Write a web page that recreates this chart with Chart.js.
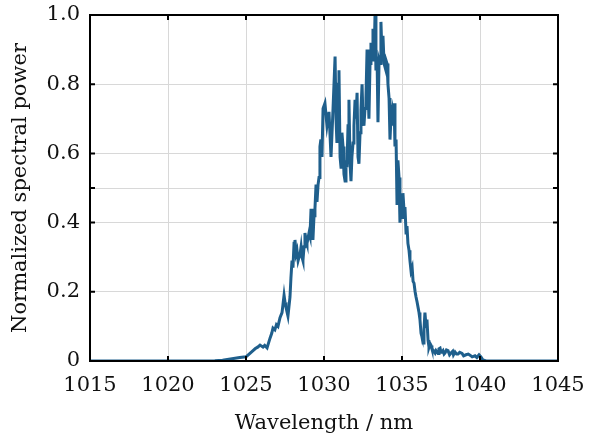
<!DOCTYPE html>
<html>
<head>
<meta charset="utf-8">
<script src="https://cdn.jsdelivr.net/npm/chart.js@4/dist/chart.umd.min.js"></script>
<style>
  html, body { margin: 0; padding: 0; background: #fff; }
  #wrap { width: 593px; height: 436px; }
</style>
</head>
<body>
<div id="wrap"><canvas id="spectrum"></canvas></div>
<script>
// Spectrum (wavelength in nm, normalized power).
const wavelength = [
  1015, 1022, 1023.0, 1023.5, 1024.0, 1024.3, 1024.6, 1025.0, 1025.2, 1025.45,
  1025.6, 1025.75, 1025.9, 1026.09, 1026.2, 1026.35, 1026.54, 1026.65, 1026.73, 1026.85,
  1026.95, 1027.05, 1027.18, 1027.31, 1027.44, 1027.5, 1027.56, 1027.69, 1027.82, 1027.88,
  1027.95, 1028.01, 1028.08, 1028.14, 1028.21, 1028.27, 1028.34, 1028.4, 1028.47, 1028.53,
  1028.59, 1028.65, 1028.72, 1028.78, 1028.85, 1028.91, 1029.04, 1029.1, 1029.17, 1029.23,
  1029.29, 1029.36, 1029.42, 1029.49, 1029.55, 1029.62, 1029.68, 1029.74, 1029.8, 1029.87,
  1029.94, 1030.06, 1030.19, 1030.32, 1030.45, 1030.58, 1030.71, 1030.77, 1030.83, 1030.9,
  1030.96, 1031.03, 1031.09, 1031.15, 1031.22, 1031.28, 1031.35, 1031.41, 1031.47, 1031.54,
  1031.6, 1031.67, 1031.73, 1031.79, 1031.86, 1031.92, 1031.99, 1032.05, 1032.12, 1032.18,
  1032.24, 1032.31, 1032.37, 1032.44, 1032.5, 1032.56, 1032.63, 1032.69, 1032.76, 1032.82,
  1032.88, 1032.95, 1033.01, 1033.08, 1033.14, 1033.21, 1033.27, 1033.33, 1033.4, 1033.46,
  1033.53, 1033.59, 1033.65, 1033.72, 1033.78, 1033.85, 1033.91, 1033.97, 1034.04, 1034.1,
  1034.17, 1034.23, 1034.29, 1034.36, 1034.42, 1034.49, 1034.55, 1034.62, 1034.68, 1034.74,
  1034.81, 1034.87, 1034.94, 1035.0, 1035.06, 1035.13, 1035.19, 1035.26, 1035.32, 1035.38,
  1035.45, 1035.51, 1035.58, 1035.65, 1035.71, 1035.77, 1035.84, 1035.9, 1035.97, 1036.03,
  1036.09, 1036.15, 1036.22, 1036.28, 1036.35, 1036.41, 1036.47, 1036.54, 1036.6, 1036.67,
  1036.73, 1036.8, 1036.86, 1036.92, 1036.99, 1037.05, 1037.12, 1037.18, 1037.24, 1037.31,
  1037.37, 1037.44, 1037.5, 1037.56, 1037.63, 1037.7, 1037.76, 1037.85, 1037.95, 1038.05,
  1038.14, 1038.25, 1038.3, 1038.4, 1038.5, 1038.59, 1038.7, 1038.85, 1038.95, 1039.1,
  1039.25, 1039.36, 1039.5, 1039.68, 1039.8, 1039.94, 1040.06, 1040.19, 1040.4, 1045
];
const power = [
  0, 0, 0.001, 0.002, 0.006, 0.008, 0.01, 0.012, 0.02, 0.03,
  0.036, 0.04, 0.046, 0.04, 0.045, 0.038, 0.066, 0.08, 0.095, 0.09,
  0.105, 0.1, 0.125, 0.14, 0.19, 0.17, 0.156, 0.13, 0.185, 0.24,
  0.29, 0.27, 0.34, 0.35, 0.31, 0.32, 0.29, 0.3, 0.31, 0.33,
  0.3, 0.29, 0.33, 0.37, 0.35, 0.34, 0.37, 0.36, 0.44, 0.4,
  0.35, 0.42, 0.44, 0.51, 0.46, 0.51, 0.53, 0.62, 0.64, 0.59,
  0.73, 0.745, 0.68, 0.72, 0.59, 0.73, 0.88, 0.7, 0.63, 0.8,
  0.84, 0.59, 0.56, 0.66, 0.62, 0.54, 0.52, 0.58, 0.56, 0.68,
  0.755, 0.57, 0.52, 0.59, 0.63, 0.68, 0.755, 0.7, 0.775, 0.59,
  0.57, 0.66, 0.725, 0.8, 0.7, 0.68, 0.73, 0.76, 0.9, 0.79,
  0.7, 0.86, 0.92, 0.87, 0.96, 0.87, 1.0, 0.84, 0.88, 0.69,
  0.87, 0.86, 0.98, 0.88, 0.94, 0.86, 0.85, 0.87, 0.86, 0.8,
  0.76, 0.64, 0.7, 0.72, 0.68, 0.745, 0.62, 0.64, 0.455, 0.58,
  0.53, 0.4, 0.445, 0.415, 0.485, 0.435, 0.445, 0.37, 0.39, 0.34,
  0.32, 0.29, 0.26, 0.27, 0.23, 0.225, 0.2, 0.185, 0.17, 0.155,
  0.14, 0.12, 0.08, 0.07, 0.052, 0.09, 0.14, 0.1, 0.12, 0.06,
  0.04, 0.05, 0.045, 0.035, 0.032, 0.028, 0.023, 0.03, 0.03, 0.022,
  0.035, 0.037, 0.025, 0.026, 0.03, 0.02, 0.023, 0.032, 0.03, 0.018,
  0.023, 0.028, 0.018, 0.026, 0.02, 0.02, 0.025, 0.022, 0.015, 0.018,
  0.02, 0.017, 0.012, 0.015, 0.01, 0.018, 0.012, 0.003, 0, 0
];
const xTicks = [1015, 1020, 1025, 1030, 1035, 1040, 1045];
const yTicks = [0, 0.2, 0.4, 0.5, 0.6, 0.8, 1.0];
const yLabelled = [0, 0.2, 0.4, 0.6, 0.8, 1.0];

const font = "'DejaVu Serif', serif";
const lineColor = '#1f5f8c';

// Black frame round the plot with inward tick marks, like the original figure.
const framePlugin = {
  id: 'frame',
  afterDraw(chart) {
    const { ctx, chartArea: a, scales } = chart;
    ctx.save();
    ctx.strokeStyle = '#000';
    ctx.lineWidth = 2;
    ctx.strokeRect(a.left, a.top, a.right - a.left, a.bottom - a.top);
    ctx.beginPath();
    xTicks.forEach(v => {
      const px = scales.x.getPixelForValue(v);
      ctx.moveTo(px, a.bottom); ctx.lineTo(px, a.bottom - 5);
      ctx.moveTo(px, a.top); ctx.lineTo(px, a.top + 5);
    });
    yTicks.forEach(v => {
      const py = scales.y.getPixelForValue(v);
      ctx.moveTo(a.left, py); ctx.lineTo(a.left + 5, py);
      ctx.moveTo(a.right, py); ctx.lineTo(a.right - 5, py);
    });
    ctx.stroke();
    ctx.restore();
  }
};

new Chart(document.getElementById('spectrum'), {
  type: 'line',
  data: {
    datasets: [{
      data: wavelength.map((w, i) => ({ x: w, y: power[i] })),
      borderColor: lineColor,
      borderWidth: 3,
      pointRadius: 0,
      tension: 0,
      fill: false
    }]
  },
  options: {
    responsive: true,
    maintainAspectRatio: false,
    animation: false,
    layout: { padding: { top: 15, right: 35, left: 0, bottom: 0 } },
    plugins: { legend: { display: false }, tooltip: { enabled: false } },
    scales: {
      x: {
        type: 'linear',
        min: 1015, max: 1045,
        afterBuildTicks: s => { s.ticks = xTicks.map(v => ({ value: v })); },
        afterFit: s => { s.height = 75; s.paddingLeft = 0; s.paddingRight = 0; },
        ticks: {
          color: '#111',
          font: { family: font, size: 21 },
          padding: 12,
          maxRotation: 0,
          callback: v => String(v)
        },
        grid: { color: '#d8d8d8', lineWidth: 1, drawTicks: false },
        border: { display: false },
        title: {
          display: true,
          text: 'Wavelength / nm',
          color: '#111',
          font: { family: font, size: 21 },
          padding: { top: 0, bottom: 0 }
        }
      },
      y: {
        min: 0, max: 1,
        afterBuildTicks: s => { s.ticks = yTicks.map(v => ({ value: v })); },
        afterFit: s => { s.width = 90; s.paddingTop = 0; s.paddingBottom = 0; },
        ticks: {
          color: '#111',
          font: { family: font, size: 21 },
          padding: 10,
          callback: v => {
            if (!yLabelled.includes(v)) return '';
            return v === 0 ? '0' : v.toFixed(1);
          }
        },
        grid: { color: '#d8d8d8', lineWidth: 1, drawTicks: false },
        border: { display: false },
        title: {
          display: true,
          text: 'Normalized spectral power',
          color: '#111',
          font: { family: font, size: 21 },
          padding: { top: 8, bottom: 0 }
        }
      }
    }
  },
  plugins: [framePlugin]
});
</script>
</body>
</html>
